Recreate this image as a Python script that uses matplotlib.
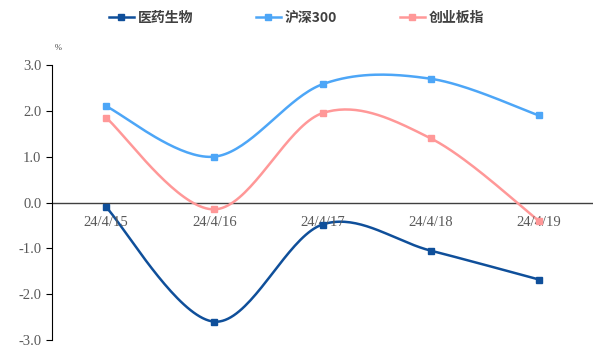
import numpy as np
import matplotlib.pyplot as plt

plt.rcParams['font.family'] = ['Liberation Serif', 'Noto Sans CJK SC']

dates = ['24/4/15', '24/4/16', '24/4/17', '24/4/18', '24/4/19']
yiyao = [-0.10, -2.60, -0.48, -1.05, -1.68]
hs300 = [2.10, 1.00, 2.58, 2.70, 1.90]
cyb = [1.85, -0.15, 1.95, 1.40, -0.40]

names = ['医药生物', '沪深300', '创业板指']
colors = ['#0F4F9A', '#4DA6F7', '#FF9898']


def smooth(x, y, n=40):
    # excel-like smoothed line (catmull-rom, bezier tension 1/6)
    x = np.asarray(x, float)
    y = np.asarray(y, float)
    px = np.concatenate([[x[0]], x, [x[-1]]])
    py = np.concatenate([[y[0]], y, [y[-1]]])
    xs, ys = [], []
    t = np.linspace(0, 1, n)
    for i in range(1, len(px) - 2):
        p0 = np.array([px[i], py[i]])
        p3 = np.array([px[i + 1], py[i + 1]])
        p1 = p0 + (np.array([px[i + 1], py[i + 1]]) - np.array([px[i - 1], py[i - 1]])) / 6
        p2 = p3 - (np.array([px[i + 2], py[i + 2]]) - np.array([px[i], py[i]])) / 6
        b = (((1 - t) ** 3)[:, None] * p0 + (3 * (1 - t) ** 2 * t)[:, None] * p1
             + (3 * (1 - t) * t ** 2)[:, None] * p2 + (t ** 3)[:, None] * p3)
        xs.extend(b[:, 0])
        ys.extend(b[:, 1])
    return np.array(xs), np.array(ys)


fig = plt.figure(figsize=(5.93, 3.48), dpi=100)
ax = fig.add_axes([52 / 593, 1 - 340 / 348, 1 - 52 / 593, 275 / 348])

x = np.arange(len(dates))
for vals, name, c in zip([yiyao, hs300, cyb], names, colors):
    sx, sy = smooth(x, vals)
    ax.plot(sx, sy, color=c, lw=1.8, zorder=3)
    ax.plot(x, vals, 's', color=c, ms=4, zorder=4)
    ax.plot([], [], color=c, lw=1.8, marker='s', ms=4, label=name)

ax.set_xlim(-0.5, len(dates) - 0.5)
ax.set_ylim(-3, 3)
ax.set_yticks(np.arange(-3, 3.1, 1))
ax.set_yticklabels(['%.1f' % v for v in np.arange(-3, 3.1, 1)], color='#595959', fontsize=10.5)
ax.axhline(0, color='#404040', lw=1, zorder=2)
ax.set_xticks([])
for i, d in enumerate(dates):
    ax.text(i, -0.43, d, ha='center', va='center', color='#595959', fontsize=10.5)

for s in ['top', 'right', 'bottom']:
    ax.spines[s].set_visible(False)
ax.spines['left'].set_color('#000000')
ax.tick_params(axis='y', direction='out', length=4, color='#000000')

fig.text(55 / 593, 1 - 48 / 348, '%', fontsize=6, color='#404040', ha='left', va='center')

leg = fig.legend(loc='center', bbox_to_anchor=(0.5, 1 - 18 / 348), ncol=3, frameon=False,
                 prop={'family': 'Noto Sans CJK SC', 'weight': 'bold', 'size': 10},
                 handlelength=1.8, columnspacing=4.5, handletextpad=0.3)
for t in leg.get_texts():
    t.set_color('#404040')

fig.savefig('out.png', dpi=100)
